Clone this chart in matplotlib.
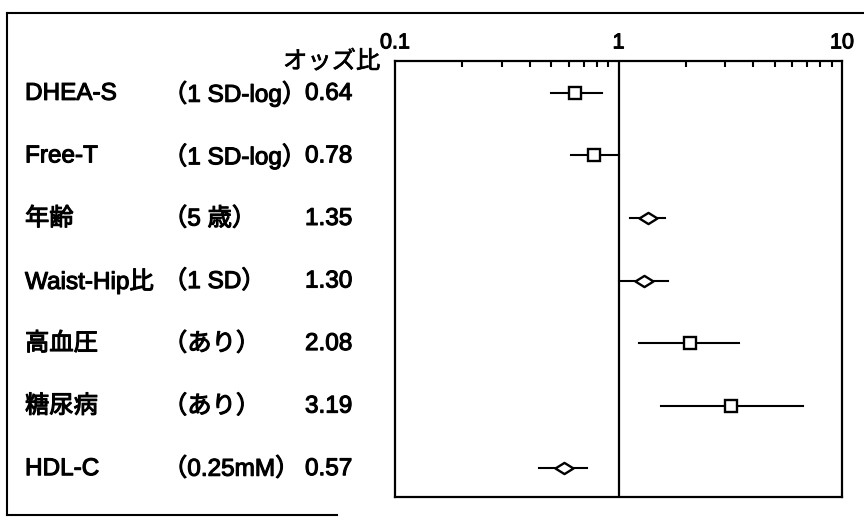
import matplotlib
matplotlib.use('Agg')
import matplotlib.pyplot as plt
from matplotlib.lines import Line2D
from matplotlib.path import Path
import matplotlib.patheffects as pe
import matplotlib.transforms as mtransforms
import numpy as np

plt.rcParams['font.family'] = ['Liberation Sans', 'Noto Sans CJK JP', 'DejaVu Sans']

# rows, top to bottom
labels = ['DHEA-S', 'Free-T', '年齢', 'Waist-Hip比', '高血圧', '糖尿病', 'HDL-C']
units = ['（1 SD-log）', '（1 SD-log）', '（5 歳）', '（1 SD）', '（あり）', '（あり）', '（0.25mM）']
odds = [0.64, 0.78, 1.35, 1.30, 2.08, 3.19, 0.57]
ci_lo = [0.50, 0.61, 1.13, 1.00, 1.23, 1.55, 0.44]
ci_hi = [0.84, 1.00, 1.61, 1.66, 3.45, 6.68, 0.72]
kinds = ['square', 'square', 'diamond', 'diamond', 'square', 'square', 'diamond']
xticks = [0.1, 1, 10]
xticklabels = ['0.1', '1', '10']

W, H = 864, 518
fig = plt.figure(figsize=(W / 100, H / 100), dpi=100)
ax = fig.add_axes([395 / W, 1 - 497 / H, (842 - 395) / W, (497 - 61) / H])

# slightly heavier strokes, like the scanned print
thick = [pe.withStroke(linewidth=0.8, foreground='black')]

# flat diamond marker
wide_diamond = Path([(-1, 0), (0, 0.62), (1, 0), (0, -0.62), (-1, 0)],
                    [Path.MOVETO, Path.LINETO, Path.LINETO, Path.LINETO, Path.CLOSEPOLY])

ypos = np.arange(1, len(labels) + 1)
for y, o, lo, hi, k in zip(ypos, odds, ci_lo, ci_hi, kinds):
    ax.plot([lo, hi], [y, y], color='black', lw=1.5, zorder=2)
    if k == 'square':
        ax.plot(o, y, marker='s', ms=9, mfc='white', mec='black', mew=1.7, zorder=3)
    else:
        ax.plot(o, y, marker=wide_diamond, ms=13, mfc='white', mec='black', mew=1.7, zorder=3)

ax.axvline(1, color='black', lw=1.6, zorder=1)

ax.set_xscale('log')
ax.set_xlim(0.1, 10)
ax.set_ylim(7.46, 0.49)
ax.set_yticks([])
ax.xaxis.set_ticks_position('top')
ax.set_xticks(xticks)
ax.set_xticklabels(xticklabels, fontsize=15.5)
for t in ax.get_xticklabels():
    t.set_path_effects(thick)
ax.tick_params(axis='x', which='major', direction='in', length=0, pad=5.5)
ax.tick_params(axis='x', which='minor', direction='in', length=4, width=1.5)
ax.xaxis.set_minor_formatter(plt.NullFormatter())
for s in ax.spines.values():
    s.set_linewidth(1.6)

# left text columns
tr = mtransforms.blended_transform_factory(fig.transFigure, ax.transData)
tx = dict(transform=tr, fontsize=17.5, va='center', ha='left', clip_on=False,
          path_effects=thick)
for y, lab, u, o in zip(ypos, labels, units, odds):
    ax.text(25 / W, y + 0.015, lab, **tx)
    ax.text(163 / W, y + 0.015, u, **tx)
    ax.text(305 / W, y + 0.015, f'{o:.2f}', **tx)

fig.text(380 / W, 1 - 62 / H, 'オッズ比', fontsize=17.5, ha='right', va='center',
         path_effects=[pe.withStroke(linewidth=0.5, foreground='black')])

# outer frame
fig.add_artist(Line2D([7 / W, 7 / W], [1 - 13 / H, 1 - 515 / H], color='black', lw=1.5))
fig.add_artist(Line2D([7 / W, 1.0], [1 - 13 / H, 1 - 13 / H], color='black', lw=1.5))
fig.add_artist(Line2D([7 / W, 337 / W], [1 - 515 / H, 1 - 515 / H], color='black', lw=1.5))

fig.savefig('out.png', dpi=100)
